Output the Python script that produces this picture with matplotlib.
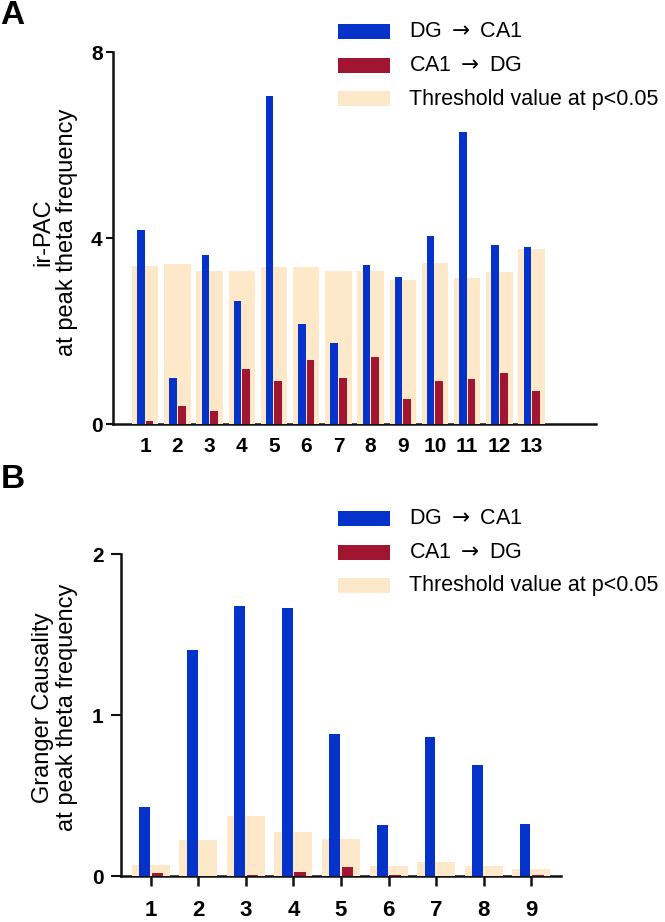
import matplotlib
matplotlib.use("Agg")
import matplotlib.pyplot as plt
from matplotlib.patches import Rectangle
import numpy as np

plt.rcParams['font.family'] = ['Liberation Sans', 'DejaVu Sans']
plt.rcParams['mathtext.fontset'] = 'dejavusans'

# ---------------- data ----------------
legend_labels = ["DG $\\rightarrow$ CA1", "CA1 $\\rightarrow$ DG", "Threshold value at p<0.05"]

a_categories = ["1", "2", "3", "4", "5", "6", "7", "8", "9", "10", "11", "12", "13"]
a_dg_ca1 = [4.17, 1.00, 3.64, 2.64, 7.05, 2.16, 1.75, 3.42, 3.16, 4.05, 6.27, 3.85, 3.80]
a_ca1_dg = [0.07, 0.38, 0.28, 1.19, 0.92, 1.37, 0.99, 1.45, 0.54, 0.92, 0.96, 1.09, 0.71]
a_threshold = [3.39, 3.45, 3.29, 3.28, 3.37, 3.37, 3.29, 3.29, 3.10, 3.47, 3.13, 3.26, 3.76]
a_yticks = [0, 4, 8]
a_ylabel = "ir-PAC\nat peak theta frequency"

b_categories = ["1", "2", "3", "4", "5", "6", "7", "8", "9"]
b_dg_ca1 = [0.431, 1.405, 1.68, 1.662, 0.883, 0.317, 0.866, 0.69, 0.325]
b_ca1_dg = [0.017, 0.002, 0.008, 0.025, 0.054, 0.008, 0.001, 0.002, 0.004]
b_threshold = [0.070, 0.222, 0.371, 0.272, 0.232, 0.060, 0.089, 0.060, 0.041]
b_yticks = [0, 1, 2]
b_ylabel = "Granger Causality\nat peak theta frequency"

# ---------------- style ----------------
BLUE = "#0533C9"
RED = "#A0152F"
BEIGE = "#FDE8C9"
colors = [BLUE, RED, BEIGE]

W, H = 665, 922
fig = plt.figure(figsize=(W / 100, H / 100), dpi=100)


def fx(px):
    return px / W


def fy(py):
    return 1 - py / H


def panel(ax, cats, dg, ca, thr, yticks, ylabel, xlim, bw_blue, bw_red, bw_thr,
          off_blue, off_red, xtick_len, xpad, ytick_len, ypad, xfs, label_xy):
    x = np.arange(1, len(cats) + 1)
    ax.bar(x, thr, width=bw_thr, color=BEIGE, zorder=3, linewidth=0)
    ax.bar(x + off_blue, dg, width=bw_blue, color=BLUE, zorder=4, linewidth=0)
    ax.bar(x + off_red, ca, width=bw_red, color=RED, zorder=4, linewidth=0)
    ax.set_xlim(*xlim)
    ax.set_ylim(yticks[0], yticks[-1])
    ax.set_xticks(x)
    ax.set_xticklabels(cats, fontsize=xfs, fontweight='bold')
    ax.set_yticks(yticks)
    ax.set_yticklabels([str(t) for t in yticks], fontsize=15, fontweight='bold')
    for s in ['top', 'right']:
        ax.spines[s].set_visible(False)
    for s in ['left', 'bottom']:
        ax.spines[s].set_linewidth(1.8)
        ax.spines[s].set_color('#111111')
        ax.spines[s].set_zorder(2)
    ax.tick_params(axis='x', length=xtick_len, width=1.8, pad=xpad, color='#111111')
    ax.tick_params(axis='y', length=ytick_len, width=1.5, pad=ypad, color='#111111')
    ax.set_ylabel(ylabel, fontsize=17, linespacing=1.1)
    ax.yaxis.set_label_coords(*label_xy)
    ax.patch.set_alpha(0)


def legend(y_centers):
    for lab, col, yc in zip(legend_labels, colors, y_centers):
        fig.patches.append(Rectangle((fx(338), fy(yc + 7.5)), fx(52), 15 / H,
                                     transform=fig.transFigure, color=col, linewidth=0))
        fig.text(fx(409), fy(yc), lab, fontsize=15.5, va='center', ha='left')


# Panel A
axA = fig.add_axes([fx(113), fy(424), fx(596 - 113), (424 - 52) / H])
panel(axA, a_categories, a_dg_ca1, a_ca1_dg, a_threshold, a_yticks, a_ylabel,
      (0.0, 15.0), 0.23, 0.24, 0.82, -0.135, 0.135, 0, 9, 5, 2.5, 15,
      (-0.072, 0.516))
legend([31.5, 65.5, 99])
fig.text(fx(0), fy(15), "A", fontsize=24, fontweight='bold', va='center', ha='left')

# Panel B
axB = fig.add_axes([fx(121), fy(876), fx(561 - 121), (876 - 554) / H])
panel(axB, b_categories, b_dg_ca1, b_ca1_dg, b_threshold, b_yticks, b_ylabel,
      (0.37, 9.63), 0.225, 0.25, 0.8, -0.13, 0.137, 7, 10, 7, 5.5, 16,
      (-0.098, 0.523))
legend([518.5, 552, 585.5])
fig.text(fx(1), fy(479), "B", fontsize=24, fontweight='bold', va='center', ha='left')

fig.savefig("out.png", dpi=100)
